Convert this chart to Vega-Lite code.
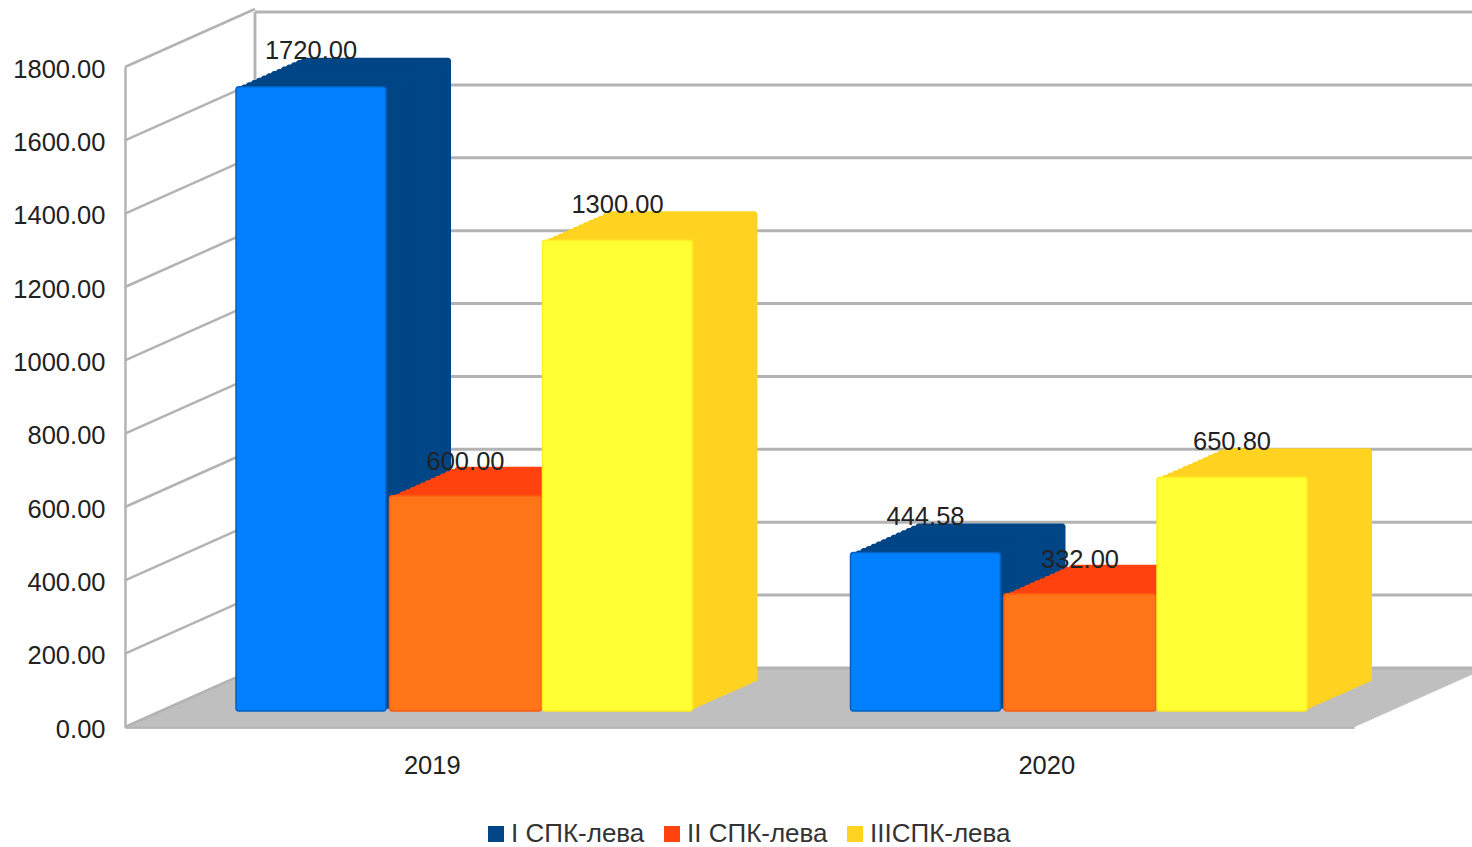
{"$schema":"https://vega.github.io/schema/vega-lite/v6.json","width":1347,"height":727,"autosize":{"type":"none"},"padding":{"left":125,"top":0,"right":0,"bottom":120},"background":"white","config":{"view":{"stroke":null},"font":"Liberation Sans","bar":{"cornerRadius":3},"axis":{"labelFont":"Liberation Sans","labelFontSize":25.5,"labelColor":"#222222"}},
"datasets":{"s1":[{"year":"2019","series":"I СПК-лева","value":1720},{"year":"2020","series":"I СПК-лева","value":444.58}],"s2":[{"year":"2019","series":"II СПК-лева","value":600},{"year":"2020","series":"II СПК-лева","value":332}],"s3":[{"year":"2019","series":"IIIСПК-лева","value":1300},{"year":"2020","series":"IIIСПК-лева","value":650.8}],
"ticks":[{"t":0},{"t":200},{"t":400},{"t":600},{"t":800},{"t":1000},{"t":1200},{"t":1400},{"t":1600},{"t":1800}],
"floor":[{"d":0},{"d":1},{"d":2},{"d":3},{"d":4},{"d":5},{"d":6},{"d":7},{"d":8},{"d":9},{"d":10},{"d":11},{"d":12},{"d":13},{"d":14},{"d":15},{"d":16},{"d":17},{"d":18},{"d":19},{"d":20},{"d":21},{"d":22},{"d":23},{"d":24},{"d":25},{"d":26},{"d":27},{"d":28},{"d":29},{"d":30},{"d":31},{"d":32},{"d":33},{"d":34},{"d":35},{"d":36},{"d":37},{"d":38},{"d":39},{"d":40},{"d":41},{"d":42},{"d":43},{"d":44},{"d":45},{"d":46},{"d":47},{"d":48},{"d":49},{"d":50},{"d":51},{"d":52},{"d":53},{"d":54},{"d":55},{"d":56},{"d":57},{"d":58}],
"years":[{"year":"2019"},{"year":"2020"}]},
"resolve":{"scale":{"x":"independent","y":"independent"},"axis":{"x":"independent","y":"independent"}},
"layer":[
{"data":{"name":"floor"},"mark":{"type":"rule","color":"#bbbbbb","strokeWidth":1.4,"x2Offset":1229},"encoding":{"x":{"field":"d","type":"quantitative","axis":null,"scale":{"domain":[0,58],"range":[0,130]}},"x2":{"field":"d"},"y":{"field":"d","type":"quantitative","axis":null,"scale":{"domain":[0,58],"range":[727,669]}}}},
{"data":{"name":"ticks"},"mark":{"type":"rule","color":"#b3b3b3","strokeWidth":3},"encoding":{"x":{"value":130},"x2":{"value":1347},"y":{"field":"t","type":"quantitative","axis":null,"scale":{"domain":[0,1800],"range":[668,12]}}}},
{"data":{"name":"years"},"mark":{"type":"rule","color":"#b3b3b3","strokeWidth":2.5},"encoding":{"x":{"value":130},"y":{"value":12},"y2":{"value":668}}},
{"data":{"name":"ticks"},"mark":{"type":"rule","color":"#b3b3b3","strokeWidth":2.5,"y2Offset":-58},"encoding":{"x":{"value":0},"x2":{"value":130},"y":{"field":"t","type":"quantitative","scale":{"domain":[0,1800],"range":[727,67]},"axis":{"values":[0,200,400,600,800,1000,1200,1400,1600,1800],"format":".2f","title":null,"grid":false,"ticks":false,"labelPadding":20,"labelOffset":2,"domainColor":"#b3b3b3","domainWidth":2.5}},"y2":{"field":"t"}}},
{"data":{"name":"years"},"mark":{"type":"rule","color":"#b3b3b3","strokeWidth":2.5},"encoding":{"x":{"field":"year","type":"nominal","scale":{"domain":["2019","2020"],"range":[0,1229],"paddingInner":0,"paddingOuter":0},"axis":{"title":null,"labelAngle":0,"ticks":false,"labelPadding":26,"domainColor":"#a8a8a8","domainWidth":2.5}},"y":{"datum":0,"scale":{"domain":[0,1],"range":[727,668]},"axis":null},"opacity":{"value":0}}},
{"data":{"name":"s1"},"encoding":{"x":{"field":"year","type":"nominal","axis":null,"scale":{"domain":["2019","2020"],"range":[-121.25,1107.75],"paddingInner":0.7559,"paddingOuter":0.37795}},"y":{"field":"value","type":"quantitative","axis":null,"stack":null,"scale":{"domain":[0,1800],"range":[715,57.5],"nice":false}},"y2":{"datum":0},"color":{"field":"series","type":"nominal","scale":{"domain":["I СПК-лева","II СПК-лева","IIIСПК-лева"],"range":["#004586","#ff420e","#ffd320"]},"legend":{"title":null,"orient":"none","legendX":358,"legendY":821,"direction":"horizontal","columns":3,"labelFont":"Liberation Sans","labelFontSize":26,"labelColor":"#333333","symbolType":"square","symbolSize":256,"symbolStrokeWidth":0,"labelOffset":2,"columnPadding":14}}},
"layer":[
{"mark":{"type":"bar","xOffset":65,"yOffset":-29,"y2Offset":-33}},
{"mark":{"type":"bar","xOffset":60,"yOffset":-26.8,"y2Offset":-30.8}},
{"mark":{"type":"bar","xOffset":55,"yOffset":-24.5,"y2Offset":-28.5}},
{"mark":{"type":"bar","xOffset":50,"yOffset":-22.3,"y2Offset":-26.3}},
{"mark":{"type":"bar","xOffset":45,"yOffset":-20.1,"y2Offset":-24.1}},
{"mark":{"type":"bar","xOffset":40,"yOffset":-17.8,"y2Offset":-21.8}},
{"mark":{"type":"bar","xOffset":35,"yOffset":-15.6,"y2Offset":-19.6}},
{"mark":{"type":"bar","xOffset":30,"yOffset":-13.4,"y2Offset":-17.4}},
{"mark":{"type":"bar","xOffset":25,"yOffset":-11.2,"y2Offset":-15.2}},
{"mark":{"type":"bar","xOffset":20,"yOffset":-8.9,"y2Offset":-12.9}},
{"mark":{"type":"bar","xOffset":15,"yOffset":-6.7,"y2Offset":-10.7}},
{"mark":{"type":"bar","xOffset":10,"yOffset":-4.5,"y2Offset":-8.5}},
{"mark":{"type":"bar","xOffset":5,"yOffset":-2.2,"y2Offset":-6.2}},
{"mark":{"type":"bar","stroke":"#0060c0","strokeWidth":1.5,"y2Offset":-4},"encoding":{"color":{"value":"#0080ff"}}}
]},
{"data":{"name":"s2"},"encoding":{"x":{"field":"year","type":"nominal","axis":null,"scale":{"domain":["2019","2020"],"range":[33.25,1262.25],"paddingInner":0.7526,"paddingOuter":0.3763}},"y":{"field":"value","type":"quantitative","axis":null,"stack":null,"scale":{"domain":[0,1800],"range":[715,57.5],"nice":false}},"y2":{"datum":0},"color":{"field":"series","type":"nominal"}},
"layer":[
{"mark":{"type":"bar","xOffset":65,"yOffset":-29,"y2Offset":-33}},
{"mark":{"type":"bar","xOffset":60,"yOffset":-26.8,"y2Offset":-30.8}},
{"mark":{"type":"bar","xOffset":55,"yOffset":-24.5,"y2Offset":-28.5}},
{"mark":{"type":"bar","xOffset":50,"yOffset":-22.3,"y2Offset":-26.3}},
{"mark":{"type":"bar","xOffset":45,"yOffset":-20.1,"y2Offset":-24.1}},
{"mark":{"type":"bar","xOffset":40,"yOffset":-17.8,"y2Offset":-21.8}},
{"mark":{"type":"bar","xOffset":35,"yOffset":-15.6,"y2Offset":-19.6}},
{"mark":{"type":"bar","xOffset":30,"yOffset":-13.4,"y2Offset":-17.4}},
{"mark":{"type":"bar","xOffset":25,"yOffset":-11.2,"y2Offset":-15.2}},
{"mark":{"type":"bar","xOffset":20,"yOffset":-8.9,"y2Offset":-12.9}},
{"mark":{"type":"bar","xOffset":15,"yOffset":-6.7,"y2Offset":-10.7}},
{"mark":{"type":"bar","xOffset":10,"yOffset":-4.5,"y2Offset":-8.5}},
{"mark":{"type":"bar","xOffset":5,"yOffset":-2.2,"y2Offset":-6.2}},
{"mark":{"type":"bar","stroke":"#ff5a10","strokeWidth":1.5,"y2Offset":-4},"encoding":{"color":{"value":"#ff7518"}}}
]},
{"data":{"name":"s3"},"encoding":{"x":{"field":"year","type":"nominal","axis":null,"scale":{"domain":["2019","2020"],"range":[185.25,1414.25],"paddingInner":0.7559,"paddingOuter":0.37795}},"y":{"field":"value","type":"quantitative","axis":null,"stack":null,"scale":{"domain":[0,1800],"range":[715,57.5],"nice":false}},"y2":{"datum":0},"color":{"field":"series","type":"nominal"}},
"layer":[
{"mark":{"type":"bar","xOffset":65,"yOffset":-29,"y2Offset":-33}},
{"mark":{"type":"bar","xOffset":60,"yOffset":-26.8,"y2Offset":-30.8}},
{"mark":{"type":"bar","xOffset":55,"yOffset":-24.5,"y2Offset":-28.5}},
{"mark":{"type":"bar","xOffset":50,"yOffset":-22.3,"y2Offset":-26.3}},
{"mark":{"type":"bar","xOffset":45,"yOffset":-20.1,"y2Offset":-24.1}},
{"mark":{"type":"bar","xOffset":40,"yOffset":-17.8,"y2Offset":-21.8}},
{"mark":{"type":"bar","xOffset":35,"yOffset":-15.6,"y2Offset":-19.6}},
{"mark":{"type":"bar","xOffset":30,"yOffset":-13.4,"y2Offset":-17.4}},
{"mark":{"type":"bar","xOffset":25,"yOffset":-11.2,"y2Offset":-15.2}},
{"mark":{"type":"bar","xOffset":20,"yOffset":-8.9,"y2Offset":-12.9}},
{"mark":{"type":"bar","xOffset":15,"yOffset":-6.7,"y2Offset":-10.7}},
{"mark":{"type":"bar","xOffset":10,"yOffset":-4.5,"y2Offset":-8.5}},
{"mark":{"type":"bar","xOffset":5,"yOffset":-2.2,"y2Offset":-6.2}},
{"mark":{"type":"bar","stroke":"#ffee20","strokeWidth":1.5,"y2Offset":-4},"encoding":{"color":{"value":"#ffff33"}}}
]},
{"data":{"name":"s1"},"mark":{"type":"text","fontSize":25.5,"font":"Liberation Sans","dy":-36,"color":"#222222"},"encoding":{"x":{"field":"year","type":"nominal","axis":null,"scale":{"domain":["2019","2020"],"range":[-121.25,1107.75],"paddingInner":0.7559,"paddingOuter":0.37795}},"y":{"field":"value","type":"quantitative","axis":null,"scale":{"domain":[0,1800],"range":[715,57.5],"nice":false}},"text":{"field":"value","type":"quantitative","format":".2f"}}},
{"data":{"name":"s2"},"mark":{"type":"text","fontSize":25.5,"font":"Liberation Sans","dy":-34,"color":"#222222"},"encoding":{"x":{"field":"year","type":"nominal","axis":null,"scale":{"domain":["2019","2020"],"range":[33.25,1262.25],"paddingInner":0.7526,"paddingOuter":0.3763}},"y":{"field":"value","type":"quantitative","axis":null,"scale":{"domain":[0,1800],"range":[715,57.5],"nice":false}},"text":{"field":"value","type":"quantitative","format":".2f"}}},
{"data":{"name":"s3"},"mark":{"type":"text","fontSize":25.5,"font":"Liberation Sans","dy":-35,"color":"#222222"},"encoding":{"x":{"field":"year","type":"nominal","axis":null,"scale":{"domain":["2019","2020"],"range":[185.25,1414.25],"paddingInner":0.7559,"paddingOuter":0.37795}},"y":{"field":"value","type":"quantitative","axis":null,"scale":{"domain":[0,1800],"range":[715,57.5],"nice":false}},"text":{"field":"value","type":"quantitative","format":".2f"}}}
]}
